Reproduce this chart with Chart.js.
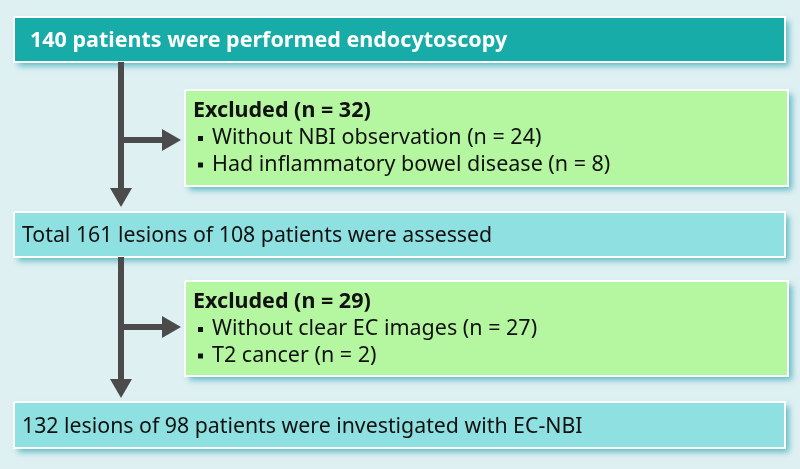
<!DOCTYPE html>
<html>
<head>
<meta charset="utf-8">
<script src="https://cdn.jsdelivr.net/npm/chart.js@4.4.1/dist/chart.umd.min.js"></script>
<style>
  html, body { margin: 0; padding: 0; background: #dff0f3; }
  #wrap { width: 800px; height: 469px; position: relative; }
</style>
</head>
<body>
<div id="wrap"><canvas id="flow"></canvas></div>
<script>
// Textes du diagramme
const stepLabels = [
    '140 patients were performed endocytoscopy',
    'Total 161 lesions of 108 patients were assessed',
    '132 lesions of 98 patients were investigated with EC-NBI'
];
const exclusionTitles = ['Excluded (n = 32)', 'Excluded (n = 29)'];
const exclusionReasons = [
    ['Without NBI observation (n = 24)', 'Had inflammatory bowel disease (n = 8)'],
    ['Without clear EC images (n = 27)', 'T2 cancer (n = 2)']
];

// Boîtes principales (unités du graphique)
const stepLeft = [14, 14, 14];
const stepRight = [785, 785, 785];
const stepTop = [17, 212, 402];
const stepBottom = [62, 257, 448];

// Boîtes d'exclusion
const exclLeft = [185, 185];
const exclRight = [788, 788];
const exclTop = [90, 281];
const exclBottom = [186, 376];

// Flèches
const trunkX = 121;
const branchY = [140, 327];
const branchTipX = 181;
const arrowTipY = [207, 398];
const headLen = 19;
const headHalf = 11;

const stepColors = ['#17aca7', '#8ee0e1', '#8ee0e1'];
const exclColor = '#b5f7a0';
const arrowColor = '#4b4b4b';

function rectPoints(l, r, t, b) {
    return [{x: l, y: t}, {x: r, y: t}, {x: r, y: b}, {x: l, y: b}, {x: l, y: t}];
}

const datasets = [];

// Flèches : tronc vertical, branche horizontale et pointes
for (let i = 0; i < 2; i++) {
    datasets.push({
        data: [{x: trunkX, y: stepBottom[i]}, {x: trunkX, y: arrowTipY[i] - headLen + 1}],
        borderColor: arrowColor, borderWidth: 6, pointRadius: 0, borderCapStyle: 'butt'
    });
    datasets.push({
        data: [{x: trunkX, y: branchY[i]}, {x: branchTipX - headLen + 1, y: branchY[i]}],
        borderColor: arrowColor, borderWidth: 6, pointRadius: 0, borderCapStyle: 'butt'
    });
    datasets.push({
        data: [{x: trunkX - headHalf, y: arrowTipY[i] - headLen}, {x: trunkX + headHalf, y: arrowTipY[i] - headLen},
               {x: trunkX, y: arrowTipY[i]}, {x: trunkX - headHalf, y: arrowTipY[i] - headLen}],
        borderColor: arrowColor, borderWidth: 0, backgroundColor: arrowColor, fill: 'shape', pointRadius: 0
    });
    datasets.push({
        data: [{x: branchTipX - headLen, y: branchY[i] - headHalf}, {x: branchTipX, y: branchY[i]},
               {x: branchTipX - headLen, y: branchY[i] + headHalf}, {x: branchTipX - headLen, y: branchY[i] - headHalf}],
        borderColor: arrowColor, borderWidth: 0, backgroundColor: arrowColor, fill: 'shape', pointRadius: 0
    });
}

// Boîtes
for (let i = 0; i < 3; i++) {
    datasets.push({
        data: rectPoints(stepLeft[i], stepRight[i], stepTop[i], stepBottom[i]),
        borderColor: '#ffffff', borderWidth: 2, backgroundColor: stepColors[i], fill: 'shape', pointRadius: 0
    });
}
for (let i = 0; i < 2; i++) {
    datasets.push({
        data: rectPoints(exclLeft[i], exclRight[i], exclTop[i], exclBottom[i]),
        borderColor: '#ffffff', borderWidth: 2, backgroundColor: exclColor, fill: 'shape', pointRadius: 0
    });
}

// Ombres sous les boîtes
const shadowPlugin = {
    id: 'boxShadows',
    beforeDatasetsDraw(chart) {
        const {ctx, scales: {x, y}} = chart;
        const boxes = [];
        for (let i = 0; i < 3; i++) boxes.push([stepLeft[i], stepRight[i], stepTop[i], stepBottom[i], stepColors[i]]);
        for (let i = 0; i < 2; i++) boxes.push([exclLeft[i], exclRight[i], exclTop[i], exclBottom[i], exclColor]);
        ctx.save();
        boxes.forEach(b => {
            const l = x.getPixelForValue(b[0]), r = x.getPixelForValue(b[1]);
            const t = y.getPixelForValue(b[2]), btm = y.getPixelForValue(b[3]);
            ctx.shadowColor = 'rgba(40, 165, 175, 0.7)';
            ctx.shadowBlur = 6;
            ctx.shadowOffsetX = 4;
            ctx.shadowOffsetY = 4;
            ctx.fillStyle = b[4];
            ctx.fillRect(l, t, r - l, btm - t);
        });
        ctx.restore();
    }
};

// Textes dans les boîtes
const textPlugin = {
    id: 'boxTexts',
    afterDatasetsDraw(chart) {
        const {ctx, scales: {x, y}} = chart;
        const fam = '"Noto Sans", "DejaVu Sans", sans-serif';
        ctx.save();
        ctx.textBaseline = 'alphabetic';
        ctx.textAlign = 'left';
        stepLabels.forEach((txt, i) => {
            const base = y.getPixelForValue((stepTop[i] + stepBottom[i]) / 2 + 7.5);
            if (i === 0) {
                ctx.font = 'bold 21.5px ' + fam;
                ctx.fillStyle = '#ffffff';
                ctx.fillText(txt, x.getPixelForValue(stepLeft[i] + 16), base);
            } else {
                ctx.font = '21.3px ' + fam;
                ctx.fillStyle = '#111111';
                ctx.fillText(txt, x.getPixelForValue(stepLeft[i] + 8), base);
            }
        });
        exclusionTitles.forEach((title, i) => {
            const top = exclTop[i];
            const lx = x.getPixelForValue(exclLeft[i] + 8);
            ctx.fillStyle = '#111111';
            ctx.font = 'bold 21.5px ' + fam;
            ctx.fillText(title, lx, y.getPixelForValue(top + 27));
            ctx.font = '21.5px ' + fam;
            exclusionReasons[i].forEach((reason, j) => {
                const ly = y.getPixelForValue(top + 54 + j * 26.5);
                ctx.fillRect(lx + 5, ly - 8, 5, 5);
                ctx.fillText(reason, lx + 19, ly);
            });
        });
        ctx.restore();
    }
};

new Chart(document.getElementById('flow'), {
    type: 'line',
    data: { datasets: datasets },
    options: {
        responsive: true,
        maintainAspectRatio: false,
        animation: false,
        layout: { padding: 0 },
        elements: { line: { tension: 0 } },
        plugins: { legend: { display: false }, tooltip: { enabled: false } },
        scales: {
            x: { type: 'linear', min: 0, max: 800, display: false },
            y: { type: 'linear', min: 0, max: 469, reverse: true, display: false }
        }
    },
    plugins: [shadowPlugin, textPlugin]
});
</script>
</body>
</html>
